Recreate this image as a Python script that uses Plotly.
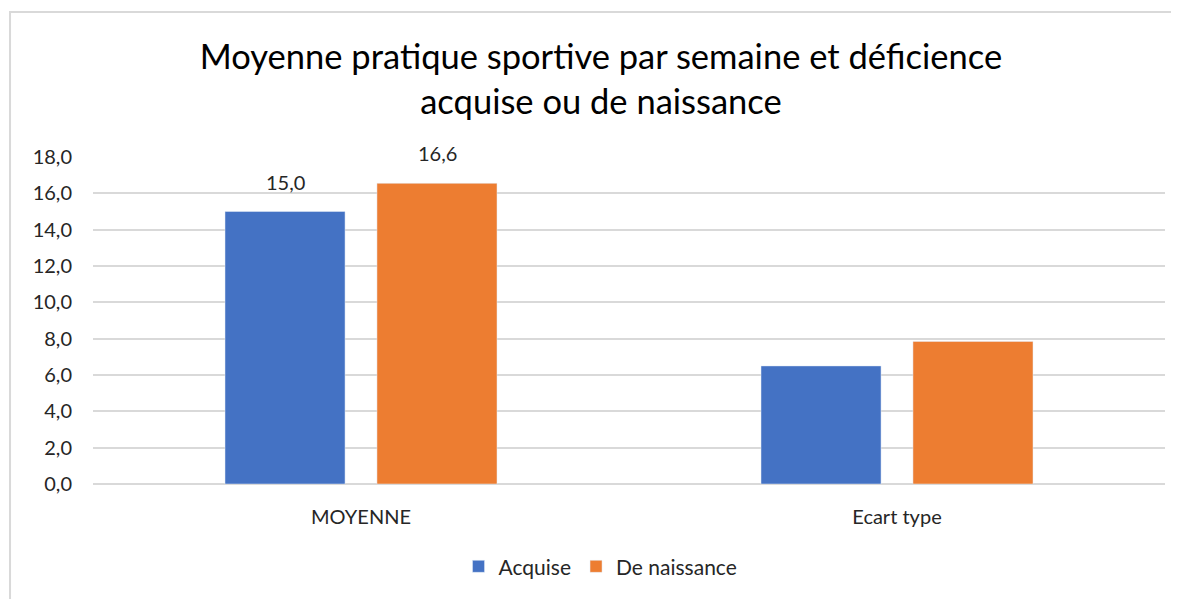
import plotly.graph_objects as go

categories = ["MOYENNE", "Ecart type"]
acquise = [15.0, 6.5]
naissance = [16.55, 7.85]
acquise_labels = ["15,0", None]
naissance_labels = ["16,6", None]
y_ticks = [0, 2, 4, 6, 8, 10, 12, 14, 16, 18]

FONT = "Lato"
TXT = "#262626"

fig = go.Figure()
fig.add_trace(go.Bar(name="Acquise", x=categories, y=acquise, marker_color="#4472C4"))
fig.add_trace(go.Bar(name="De naissance", x=categories, y=naissance, marker_color="#ED7D31"))

# data labels (only on the first category, as in the reference)
for cat, val, lab, shift in [(c, v, l, -76) for c, v, l in zip(categories, acquise, acquise_labels)] + \
                           [(c, v, l, 76) for c, v, l in zip(categories, naissance, naissance_labels)]:
    if lab:
        fig.add_annotation(x=cat, y=val, text=lab, showarrow=False, xshift=shift, yshift=16,
                           yanchor="bottom", font=dict(size=20, family=FONT, color=TXT))

fig.update_layout(
    width=1171, height=591,
    margin=dict(l=85, r=14, t=149, b=115, autoexpand=False),
    paper_bgcolor="white", plot_bgcolor="white",
    separators=",.",
    barmode="group", bargap=0.433, bargroupgap=0.21,
    font=dict(family=FONT, color=TXT, size=20),
    title=dict(text="Moyenne pratique sportive par semaine et déficience<br>acquise ou de naissance",
               x=0.5064, xref="container", xanchor="center", y=0.897, yref="container", yanchor="top",
               font=dict(size=34.5, family=FONT, color="#000000")),
    legend=dict(orientation="h", x=0.506, xref="container", xanchor="center", y=0.02, yref="container",
                yanchor="bottom", font=dict(size=21, family=FONT, color=TXT), itemwidth=30,
                traceorder="normal"),
    showlegend=True,
)
fig.update_yaxes(range=[0, 18], tickvals=y_ticks, tickformat=".1f", showgrid=True,
                 gridcolor="#D9D9D9", gridwidth=2, zeroline=True, zerolinecolor="#D9D9D9",
                 zerolinewidth=2, showline=False, ticks="", ticklabelstandoff=20,
                 tickfont=dict(size=20, family=FONT, color=TXT))
fig.update_xaxes(showline=False, ticks="", tickfont=dict(size=20, family=FONT, color=TXT),
                 ticklabelstandoff=19)

fig.add_shape(type="rect", xref="paper", yref="paper", x0=-0.0774, x1=1.3, y0=-0.8, y1=1.4434,
              line=dict(color="#D9D9D9", width=2), fillcolor="rgba(0,0,0,0)", layer="below")

fig.write_html("out.html")
